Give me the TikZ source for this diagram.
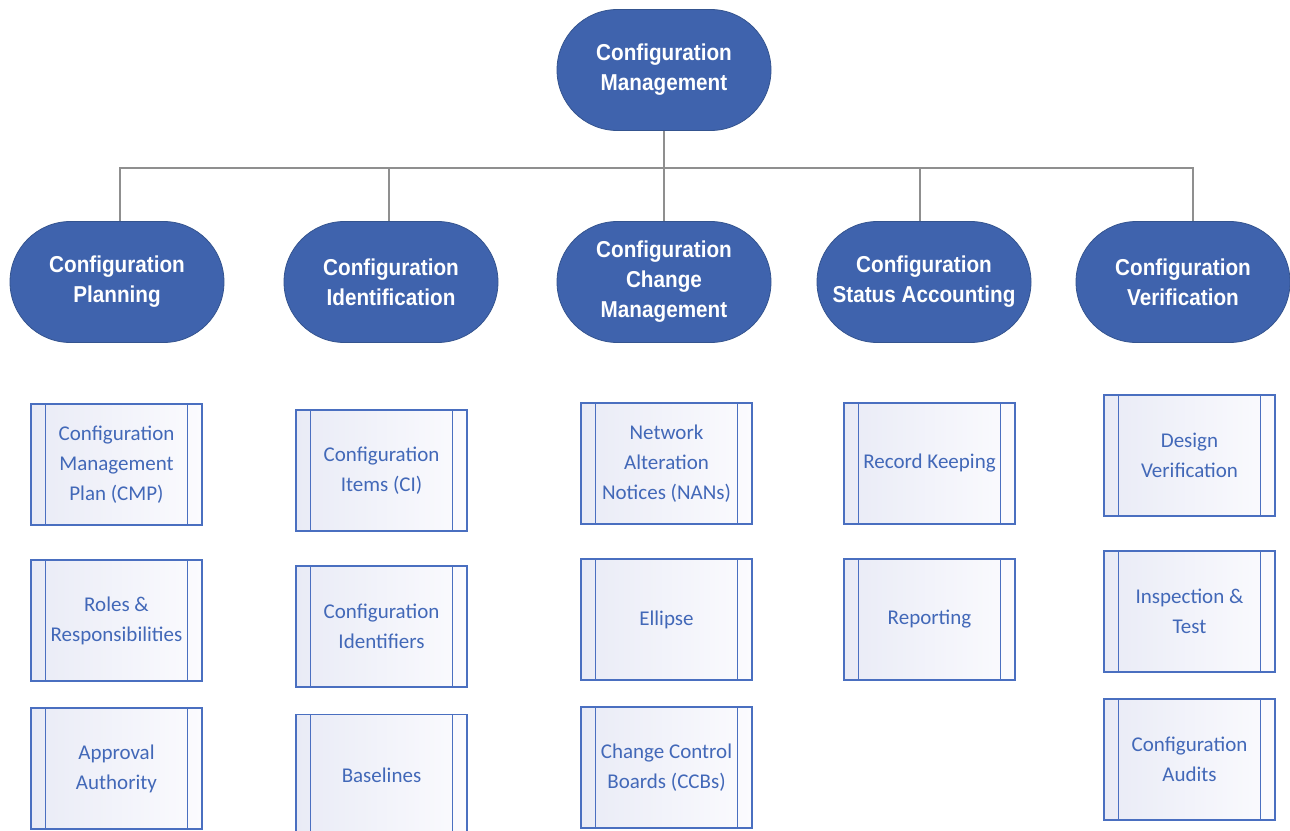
\documentclass[tikz,border=0pt]{standalone}
\usepackage{fontspec}
\setmainfont{Liberation Sans}
\newfontfamily\headfont[FakeStretch=0.9]{Liberation Sans}
\newfontfamily\carl{Carlito}
\usetikzlibrary{shapes.misc}
\definecolor{nodefill}{HTML}{3F63AD}
\definecolor{nodeedge}{HTML}{34548F}
\definecolor{linegray}{HTML}{8F8F8F}
\definecolor{boxblue}{HTML}{4A6FC0}
\definecolor{boxleft}{HTML}{E9EBF6}
\definecolor{boxright}{HTML}{FBFBFE}
\definecolor{txtblue}{HTML}{4268B8}
\begin{document}
\begin{tikzpicture}[x=1pt,y=-1pt,
  main/.style={rounded rectangle, draw=nodeedge, line width=0.8pt, fill=nodefill,
    minimum width=214pt, minimum height=121pt, inner sep=0pt, text=white,
    font=\headfont\bfseries\fontsize{23}{30}\selectfont, align=center},
  proc/.style={rectangle, draw=boxblue, line width=1.3pt, left color=boxleft, right color=boxright,
    minimum width=171pt, minimum height=121pt, inner sep=0pt, text=txtblue,
    font=\carl\fontsize{21}{30}\selectfont, align=center},
  conn/.style={draw=linegray, line width=2pt},
  sideline/.style={draw=boxblue, line width=1.3pt}]
\useasboundingbox (0,0) rectangle (1290,830);
\fill[white] (0,0) rectangle (1290,830);

% top and level-2 nodes
\node[main] (top) at (664,70) {Configuration\\Management};
\node[main] (c1) at (117,282) {Configuration\\Planning};
\node[main] (c2) at (391,282) {Configuration\\Identification};
\node[main] (c3) at (664,282) {Configuration\\Change\\Management};
\node[main] (c4) at (924,282) {Configuration\\Status Accounting};
\node[main] (c5) at (1183,282) {Configuration\\Verification};

% connectors
\coordinate (bus) at (664,168);
\draw[conn] (top.south) -- (c3.north);
\draw[conn] ([xshift=3pt]c1.north) -- ([xshift=3pt]c1.north |- bus) -- ([xshift=10pt]c5.north |- bus) -- ([xshift=10pt]c5.north);
\draw[conn] ([xshift=-2pt]c2.north) -- ([xshift=-2pt]c2.north |- bus);
\draw[conn] ([xshift=-4pt]c4.north) -- ([xshift=-4pt]c4.north |- bus);

% process boxes
\node[proc] (p11) at (116.5,464.5) {Configuration\\Management\\Plan (CMP)};
\node[proc] (p12) at (116.5,620.5) {Roles \&\\Responsibilities};
\node[proc] (p13) at (116.5,768.5) {Approval\\Authority};

\node[proc] (p21) at (381.5,470.5) {Configuration\\Items (CI)};
\node[proc] (p22) at (381.5,626.5) {Configuration\\Identifiers};
\node[proc] (p23) at (381.5,775) {Baselines};

\node[proc] (p31) at (666.5,463.5) {Network\\Alteration\\Notices (NANs)};
\node[proc] (p32) at (666.5,619.5) {Ellipse};
\node[proc] (p33) at (666.5,767.5) {Change Control\\Boards (CCBs)};

\node[proc] (p41) at (929.5,463.5) {Record Keeping};
\node[proc] (p42) at (929.5,619.5) {Reporting};

\node[proc] (p51) at (1189.5,455.5) {Design\\Verification};
\node[proc] (p52) at (1189.5,611.5) {Inspection \&\\Test};
\node[proc] (p53) at (1189.5,759.5) {Configuration\\Audits};

\foreach \n in {p11,p12,p13,p21,p22,p23,p31,p32,p33,p41,p42,p51,p52,p53}{
  \draw[sideline] ([xshift=15pt]\n.north west) -- ([xshift=15pt]\n.south west);
  \draw[sideline] ([xshift=-15pt]\n.north east) -- ([xshift=-15pt]\n.south east);
}
\end{tikzpicture}
\end{document}
